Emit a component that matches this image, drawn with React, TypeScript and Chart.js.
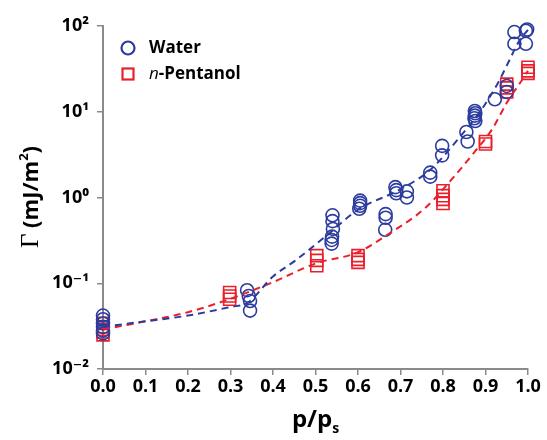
import React, { useEffect, useRef } from "react";
import { Chart, registerables } from "chart.js";

Chart.register(...registerables);

// ---- Data ----
const waterX = [0, 0, 0, 0, 0, 0, 0.339, 0.343, 0.346, 0.346, 0.54, 0.54, 0.541, 0.539, 0.538, 0.538, 0.605, 0.605, 0.605, 0.603, 0.665, 0.665, 0.664, 0.688, 0.69, 0.69, 0.715, 0.715, 0.77, 0.77, 0.798, 0.798, 0.855, 0.858, 0.875, 0.876, 0.875, 0.874, 0.876, 0.922, 0.95, 0.95, 0.968, 0.968, 0.995, 0.998, 0.995];
const waterY = [0.042, 0.038, 0.034, 0.031, 0.028, 0.026, 0.083, 0.071, 0.062, 0.048, 0.62, 0.53, 0.43, 0.35, 0.32, 0.29, 0.92, 0.86, 0.8, 0.74, 0.64, 0.58, 0.42, 1.32, 1.22, 1.12, 1.18, 1.0, 1.95, 1.75, 4.0, 3.1, 5.8, 4.5, 10.2, 9.6, 9.0, 8.4, 7.8, 14, 20, 17, 85, 62, 88, 91, 62];

const pentX = [0, 0, 0, 0, 0, 0.298, 0.298, 0.298, 0.503, 0.503, 0.503, 0.6, 0.6, 0.6, 0.8, 0.8, 0.8, 0.8, 0.9, 0.9, 0.95, 0.95, 0.95, 1.0, 1.0, 1.0];
const pentY = [0.034, 0.031, 0.029, 0.027, 0.025, 0.078, 0.071, 0.065, 0.21, 0.185, 0.16, 0.21, 0.19, 0.175, 1.2, 1.05, 0.95, 0.85, 4.5, 4.2, 21, 19, 17, 33, 30, 28];

const waterFitX = [0, 0.1, 0.2, 0.3, 0.34, 0.4, 0.45, 0.52, 0.6, 0.7, 0.77, 0.84, 0.89, 0.93, 0.953, 0.98, 1.0];
const waterFitY = [0.031, 0.036, 0.042, 0.053, 0.059, 0.12, 0.18, 0.34, 0.72, 1.25, 2.1, 5.1, 10.5, 22, 37, 68, 90];

const pentFitX = [0, 0.1, 0.2, 0.3, 0.4, 0.5, 0.6, 0.67, 0.76, 0.83, 0.87, 0.915, 0.95, 0.986, 1.0];
const pentFitY = [0.029, 0.036, 0.046, 0.066, 0.103, 0.17, 0.23, 0.37, 0.77, 1.85, 3.2, 6.2, 12.7, 23.5, 30];

const xTicks = [0, 0.1, 0.2, 0.3, 0.4, 0.5, 0.6, 0.7, 0.8, 0.9, 1.0];
const yTicks = [0.01, 0.1, 1, 10, 100];
const yTickLabels = ["10\u207B\u00B2", "10\u207B\u00B9", "10\u2070", "10\u00B9", "10\u00B2"];

const seriesNames = ["Water", "n-Pentanol"];
const yTitle = ["\u0393", " (mJ/m", "2", ")"];
const xTitle = ["p/p", "s"];

const BLUE = "#2b3c9e";
const RED = "#e9202b";
const FONT = "'Open Sans', 'DejaVu Sans', sans-serif";

const zip = (xs: number[], ys: number[]) => xs.map((x, i) => ({ x, y: ys[i] }));

const annotPlugin = {
  id: "annot",
  afterDraw(chart: any) {
    const ctx = chart.ctx as CanvasRenderingContext2D;
    const area = chart.chartArea;
    ctx.save();
    // ---- Legend ----
    const lx = area.left + 25;
    const ly1 = 48;
    const ly2 = 74;
    ctx.lineWidth = 2.2;
    ctx.strokeStyle = BLUE;
    ctx.beginPath();
    ctx.arc(lx, ly1, 6.5, 0, Math.PI * 2);
    ctx.stroke();
    ctx.strokeStyle = RED;
    ctx.strokeRect(lx - 5.5, ly2 - 5.5, 11, 11);
    ctx.fillStyle = "#000";
    ctx.textBaseline = "middle";
    ctx.textAlign = "left";
    ctx.font = `bold 17px ${FONT}`;
    ctx.fillText(seriesNames[0], lx + 21, ly1);
    const nPart = seriesNames[1].slice(0, 1);
    const rest = seriesNames[1].slice(1);
    ctx.font = `italic 17px ${FONT}`;
    ctx.fillText(nPart, lx + 21, ly2);
    const nw = ctx.measureText(nPart).width;
    ctx.font = `bold 17px ${FONT}`;
    ctx.fillText(rest, lx + 21 + nw, ly2);

    // ---- Y title (rotated) ----
    ctx.translate(30, 197);
    ctx.rotate(-Math.PI / 2);
    const f0 = `25px 'Liberation Serif', 'DejaVu Serif', serif`;
    const f1 = `bold 22px ${FONT}`;
    const f2 = `bold 13px ${FONT}`;
    ctx.font = f0; const w0 = ctx.measureText(yTitle[0]).width;
    ctx.font = f1; const w1 = ctx.measureText(yTitle[1]).width;
    ctx.font = f2; const w2 = ctx.measureText(yTitle[2]).width;
    ctx.font = f1; const w3 = ctx.measureText(yTitle[3]).width;
    let cx = -(w0 + w1 + w2 + w3) / 2;
    ctx.textBaseline = "alphabetic";
    ctx.font = f0; ctx.fillText(yTitle[0], cx, 8); cx += w0;
    ctx.font = f1; ctx.fillText(yTitle[1], cx, 8); cx += w1;
    ctx.font = f2; ctx.fillText(yTitle[2], cx, -2); cx += w2;
    ctx.font = f1; ctx.fillText(yTitle[3], cx, 8);
    ctx.setTransform(1, 0, 0, 1, 0, 0);

    // ---- X title ----
    const g1 = `bold 24px ${FONT}`;
    const g2 = `bold 14px ${FONT}`;
    ctx.font = g1; const a = ctx.measureText(xTitle[0]).width;
    ctx.font = g2; const b = ctx.measureText(xTitle[1]).width;
    const midX = (area.left + area.right) / 2;
    let sx = midX - (a + b) / 2;
    ctx.font = g1; ctx.fillText(xTitle[0], sx, 427); sx += a;
    ctx.font = g2; ctx.fillText(xTitle[1], sx, 433);
    ctx.restore();
  },
};

export default function App() {
  const ref = useRef<HTMLCanvasElement | null>(null);
  useEffect(() => {
    if (!ref.current) return;
    const gridOpts = {
      drawOnChartArea: false,
      drawTicks: true,
      tickLength: 6,
      color: "#8a8a8a",
      lineWidth: 1.5,
    };
    const chart = new Chart(ref.current, {
      type: "scatter",
      data: {
        datasets: [
          {
            label: seriesNames[0],
            data: zip(waterX, waterY),
            pointStyle: "circle",
            pointRadius: 6.5,
            pointBorderWidth: 1.6,
            borderColor: BLUE,
            backgroundColor: "rgba(0,0,0,0)",
            showLine: false,
            clip: false,
            order: 1,
          },
          {
            label: seriesNames[1],
            data: zip(pentX, pentY),
            pointStyle: "rect",
            pointRadius: 8.5,
            pointBorderWidth: 1.6,
            borderColor: RED,
            backgroundColor: "rgba(0,0,0,0)",
            showLine: false,
            clip: false,
            order: 2,
          },
          {
            label: "Water fit",
            data: zip(waterFitX, waterFitY),
            showLine: true,
            pointRadius: 0,
            borderColor: BLUE,
            borderWidth: 2,
            borderDash: [7, 5],
            cubicInterpolationMode: "monotone",
            clip: false,
            order: 0,
          },
          {
            label: "Pentanol fit",
            data: zip(pentFitX, pentFitY),
            showLine: true,
            pointRadius: 0,
            borderColor: RED,
            borderWidth: 2,
            borderDash: [7, 5],
            cubicInterpolationMode: "monotone",
            clip: false,
            order: 0,
          },
        ],
      },
      options: {
        animation: false,
        responsive: false,
        maintainAspectRatio: false,
        layout: { padding: { left: 0, top: 26, right: 19, bottom: 0 } },
        plugins: { legend: { display: false }, tooltip: { enabled: false } },
        scales: {
          x: {
            type: "linear",
            min: 0,
            max: 1,
            afterBuildTicks: (s: any) => {
              s.ticks = xTicks.map((v) => ({ value: v }));
            },
            ticks: {
              callback: (v: any) => Number(v).toFixed(1),
              font: { family: FONT, weight: "bold", size: 18 },
              color: "#000",
              padding: 1,
              maxRotation: 0,
              autoSkip: false,
            },
            grid: gridOpts,
            border: { color: "#8a8a8a", width: 2 },
            afterFit: (s: any) => {
              s.height = 71;
            },
          },
          y: {
            type: "logarithmic",
            min: 0.01,
            max: 100,
            afterBuildTicks: (s: any) => {
              s.ticks = yTicks.map((v) => ({ value: v, major: true }));
            },
            ticks: {
              callback: (v: any) => {
                const i = yTicks.findIndex((t) => Math.abs(t - Number(v)) / t < 1e-6);
                return i >= 0 ? yTickLabels[i] : "";
              },
              font: { family: FONT, weight: "bold", size: 18 },
              color: "#000",
              padding: 8,
              autoSkip: false,
            },
            grid: gridOpts,
            border: { color: "#8a8a8a", width: 2 },
            afterFit: (s: any) => {
              s.width = 103;
            },
          },
        },
      },
      plugins: [annotPlugin],
    } as any);
    return () => chart.destroy();
  }, []);
  return (
    <div style={{ position: "fixed", left: 0, top: 0, width: 547, height: 440, background: "#fff" }}>
      <canvas ref={ref} width={547} height={440} style={{ width: 547, height: 440, display: "block" }} />
    </div>
  );
}
